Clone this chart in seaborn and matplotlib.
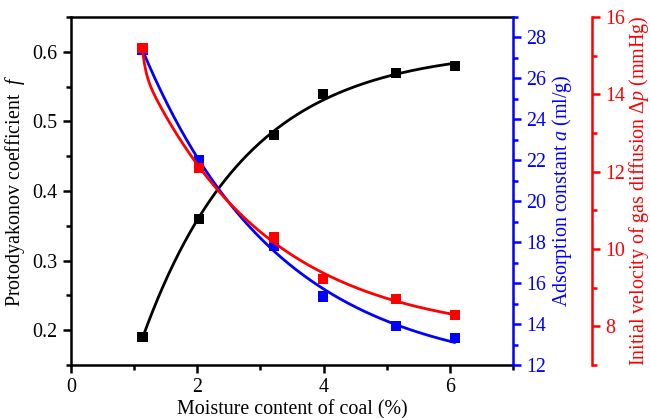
import numpy as np
import pandas as pd
import matplotlib
matplotlib.use("Agg")
import matplotlib.pyplot as plt
import seaborn as sns
from matplotlib.ticker import MultipleLocator

# ---- data ----
moisture = [1.13, 2.03, 3.21, 3.99, 5.15, 6.08]
protodyakonov_f = [0.19, 0.36, 0.48, 0.539, 0.57, 0.58]
adsorption_a = [27.4, 22.0, 17.8, 15.35, 13.9, 13.32]
diffusion_dp = [15.2, 12.1, 10.3, 9.22, 8.71, 8.30]

x_label = "Moisture content of coal (%)"
f_label = "Protodyakonov coefficient  $f$"
a_label = "Adsorption constant $a$ (ml/g)"
p_label = "Initial velocity of gas diffusion $\\Delta p$ (mmHg)"


def expdec_fit(x, y, n_terms, xs):
    """Least-squares exponential-decay fit (y0 + sum A_i exp(-x/t_i))."""
    x = np.asarray(x, float)
    y = np.asarray(y, float)
    taus = np.logspace(np.log10(0.05), np.log10(20), 90)
    if n_terms == 1:
        combos = [(t,) for t in taus]
    else:
        combos = [(t1, t2) for i, t1 in enumerate(taus) for t2 in taus[i + 1:]]
    best = None
    for ts in combos:
        M = np.column_stack([np.ones_like(x)] + [np.exp(-(x - x[0]) / t) for t in ts])
        coef, *_ = np.linalg.lstsq(M, y, rcond=None)
        r = np.sum((M @ coef - y) ** 2)
        if best is None or r < best[0]:
            best = (r, ts, coef)
    _, ts, coef = best
    xs = np.asarray(xs, float)
    Ms = np.column_stack([np.ones_like(xs)] + [np.exp(-(xs - x[0]) / t) for t in ts])
    return Ms @ coef


sns.set_style("ticks")
plt.rcParams["font.family"] = ["Liberation Serif", "DejaVu Serif"]
plt.rcParams["mathtext.fontset"] = "custom"
plt.rcParams["mathtext.rm"] = "Liberation Serif"
plt.rcParams["mathtext.it"] = "Liberation Serif:italic"
plt.rcParams["text.color"] = "black"
plt.rcParams["axes.labelcolor"] = "black"
plt.rcParams["axes.edgecolor"] = "black"
plt.rcParams["xtick.color"] = "black"
plt.rcParams["ytick.color"] = "black"

FS = 14.4
fig = plt.figure(figsize=(6.5, 4.18), dpi=100)
ax = fig.add_axes([71 / 650, 1 - 365 / 418, (513 - 71) / 650, (365 - 17) / 418])
ax2 = ax.twinx()
ax3 = ax.twinx()

xs = np.linspace(moisture[0], moisture[-1], 300)
df_pts = pd.DataFrame({"x": moisture, "f": protodyakonov_f, "a": adsorption_a, "p": diffusion_dp})
df_fit = pd.DataFrame({
    "x": xs,
    "f": expdec_fit(moisture, protodyakonov_f, 1, xs),
    "a": expdec_fit(moisture, adsorption_a, 1, xs),
    "p": expdec_fit(moisture, diffusion_dp, 2, xs),
})

LW = 2.0
MS = 55
sns.lineplot(data=df_fit, x="x", y="f", ax=ax, color="black", lw=LW, zorder=3)
sns.scatterplot(data=df_pts, x="x", y="f", ax=ax, color="black", marker="s", s=MS,
                edgecolor="none", zorder=4)
sns.lineplot(data=df_fit, x="x", y="a", ax=ax2, color="blue", lw=LW, zorder=3)
sns.scatterplot(data=df_pts, x="x", y="a", ax=ax2, color="blue", marker="s", s=MS,
                edgecolor="none", zorder=4)
sns.lineplot(data=df_fit, x="x", y="p", ax=ax3, color="red", lw=LW, zorder=3)
sns.scatterplot(data=df_pts, x="x", y="p", ax=ax3, color="red", marker="s", s=MS,
                edgecolor="none", zorder=4)

ax.set_xlim(0, 7)
ax.set_ylim(0.15, 0.65)
ax2.set_ylim(12, 29)
ax3.set_ylim(7, 16)

ax.xaxis.set_major_locator(MultipleLocator(2))
ax.xaxis.set_minor_locator(MultipleLocator(1))
ax.yaxis.set_major_locator(MultipleLocator(0.1))
ax.yaxis.set_minor_locator(MultipleLocator(0.05))
ax.yaxis.set_major_formatter(matplotlib.ticker.FormatStrFormatter("%.1f"))
for a in (ax2, ax3):
    a.yaxis.set_major_locator(MultipleLocator(2))
    a.yaxis.set_minor_locator(MultipleLocator(1))

SW = 1.8
for s in ax.spines.values():
    s.set_linewidth(SW)
    s.set_color("black")
ax.spines["right"].set_visible(False)
for a in (ax2, ax3):
    for name, s in a.spines.items():
        s.set_visible(name == "right")
        s.set_linewidth(SW)
ax2.spines["right"].set_color("blue")
ax3.spines["right"].set_color("red")
ax3.spines["right"].set_position(("outward", 57))

ax.tick_params(axis="both", which="major", direction="out", length=6, width=SW,
               labelsize=FS, colors="black")
ax.tick_params(axis="both", which="minor", direction="out", length=3.5, width=SW, colors="black")
ax.tick_params(top=False, right=False, which="both")
for a, c in ((ax2, "blue"), (ax3, "red")):
    a.tick_params(axis="y", which="major", direction="out", length=6, width=SW,
                  colors=c, labelsize=FS)
    a.tick_params(axis="y", which="minor", direction="out", length=3.5, width=SW, colors=c)

ax.set_xlabel(x_label, fontsize=FS, labelpad=2, color="black")
ax.set_ylabel(f_label, fontsize=FS, labelpad=4, color="black")
ax2.set_ylabel(a_label, fontsize=FS, color="blue", labelpad=3)
ax3.set_ylabel(p_label, fontsize=FS, color="red", labelpad=1.5)

fig.savefig("out.png", dpi=100)
